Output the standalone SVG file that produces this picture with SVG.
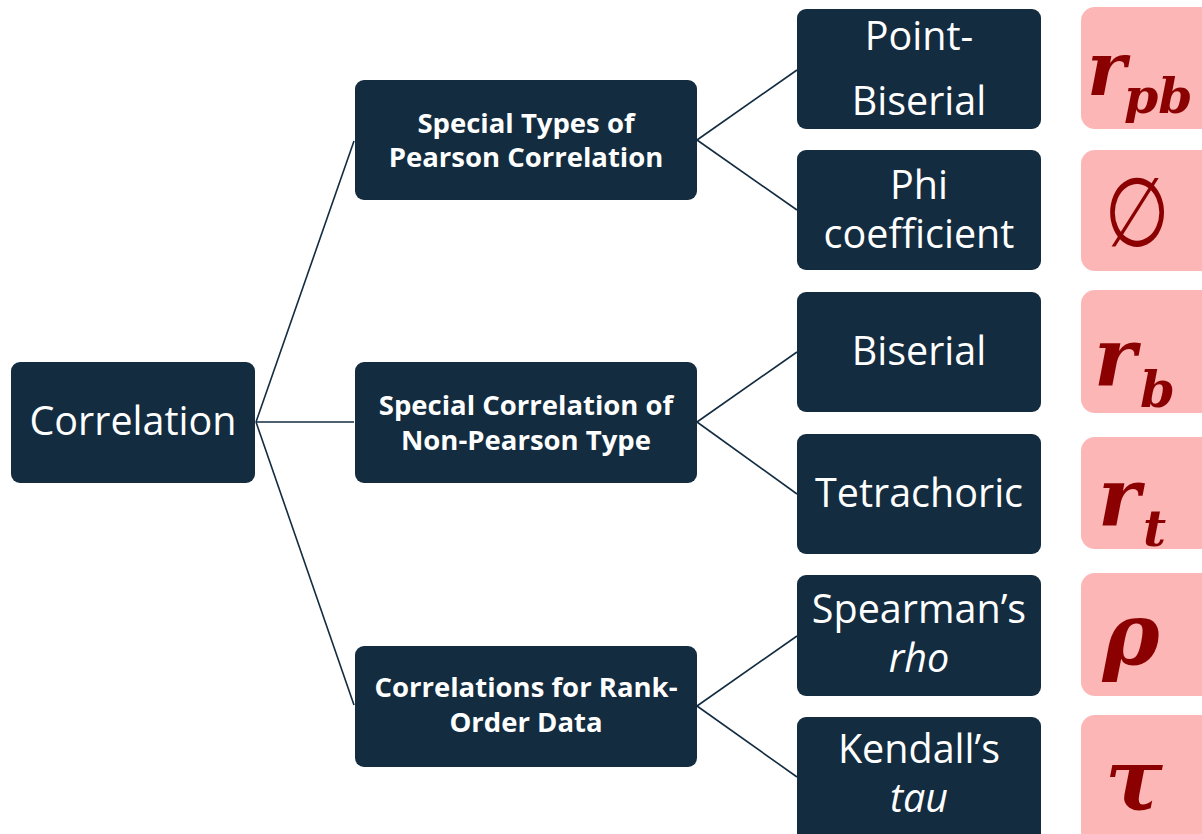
<svg xmlns="http://www.w3.org/2000/svg" width="1202" height="834" viewBox="0 0 1202 834">
<style>
.box{fill:#132C40}
.pink{fill:#FCB6B6}
.t{font-family:"Open Sans","Liberation Sans",sans-serif;fill:#FFFFFF;text-anchor:middle}
.big{font-size:39.5px}
.mid{font-size:27.5px;font-weight:bold}
.m{font-family:"DejaVu Serif","Liberation Serif",serif;fill:#8B0000;font-weight:bold;font-style:italic}
.conn{stroke:#132C40;stroke-width:1.6;fill:none}
</style>
<rect width="1202" height="834" fill="#FFFFFF"/>
<g id="connectors" class="conn">
<path d="M256,422 L354,141"/>
<path d="M256,422 L354,422"/>
<path d="M256,422 L354,705"/>
<path d="M697,140 L797,70"/>
<path d="M697,140 L797,210"/>
<path d="M697,422 L797,352"/>
<path d="M697,422 L797,494"/>
<path d="M697,706 L797,636"/>
<path d="M697,706 L797,777"/>
</g>
<g id="correlation">
<rect class="box" x="11" y="362" width="244" height="121" rx="9"/>
<text class="t big" x="133" y="435">Correlation</text>
</g>
<g id="special-pearson">
<rect class="box" x="355" y="80" width="342" height="120" rx="9"/>
<text class="t mid" x="526" y="133">Special Types of</text>
<text class="t mid" x="526" y="167">Pearson Correlation</text>
</g>
<g id="special-non-pearson">
<rect class="box" x="355" y="362" width="342" height="121" rx="9"/>
<text class="t mid" x="526" y="415">Special Correlation of</text>
<text class="t mid" x="526" y="450">Non-Pearson Type</text>
</g>
<g id="rank-order">
<rect class="box" x="355" y="646" width="342" height="121" rx="9"/>
<text class="t mid" x="526" y="697">Correlations for Rank-</text>
<text class="t mid" x="526" y="732">Order Data</text>
</g>
<g id="point-biserial">
<rect class="box" x="797" y="9" width="244" height="120" rx="9"/>
<text class="t big" x="919" y="50">Point-</text>
<text class="t big" x="919" y="115">Biserial</text>
</g>
<g id="phi">
<rect class="box" x="797" y="150" width="244" height="120" rx="9"/>
<text class="t big" x="919" y="199">Phi</text>
<text class="t big" x="919" y="248">coefficient</text>
</g>
<g id="biserial">
<rect class="box" x="797" y="292" width="244" height="120" rx="9"/>
<text class="t big" x="919" y="365">Biserial</text>
</g>
<g id="tetrachoric">
<rect class="box" x="797" y="434" width="244" height="120" rx="9"/>
<text class="t big" x="919" y="507">Tetrachoric</text>
</g>
<g id="spearman">
<rect class="box" x="797" y="575" width="244" height="121" rx="9"/>
<text class="t big" x="919" y="623">Spearman’s</text>
<text class="t big" x="919" y="672" font-style="italic">rho</text>
</g>
<g id="kendall">
<rect class="box" x="797" y="717" width="244" height="125" rx="9"/>
<text class="t big" x="919" y="763">Kendall’s</text>
<text class="t big" x="919" y="812" font-style="italic">tau</text>
</g>
<g id="sym-rpb">
<rect class="pink" x="1081" y="7" width="135" height="122" rx="14"/>
<text class="m" x="1087" y="95" font-size="74">r</text>
<text class="m" x="1124" y="113" font-size="49">pb</text>
</g>
<g id="sym-phi">
<rect class="pink" x="1081" y="150" width="135" height="121" rx="14"/>
<text x="0" y="0" font-size="96" text-anchor="middle" fill="#8B0000" font-family="DejaVu Serif, DejaVu Sans, serif" transform="translate(1137,246) scale(0.78,1)">∅</text>
</g>
<g id="sym-rb">
<rect class="pink" x="1081" y="290" width="135" height="123" rx="14"/>
<text class="m" x="1094" y="385" font-size="80">r</text>
<text class="m" x="1140" y="407" font-size="50">b</text>
</g>
<g id="sym-rt">
<rect class="pink" x="1081" y="437" width="135" height="112" rx="14"/>
<text class="m" x="1098" y="525" font-size="80">r</text>
<text class="m" x="1143" y="546" font-size="50">t</text>
</g>
<g id="sym-rho">
<rect class="pink" x="1081" y="573" width="135" height="123" rx="14"/>
<text class="m" x="1131" y="664" font-size="86" text-anchor="middle">ρ</text>
</g>
<g id="sym-tau">
<rect class="pink" x="1081" y="715" width="135" height="130" rx="14"/>
<text class="m" x="1134" y="810" font-size="86" text-anchor="middle">τ</text>
</g>
</svg>
